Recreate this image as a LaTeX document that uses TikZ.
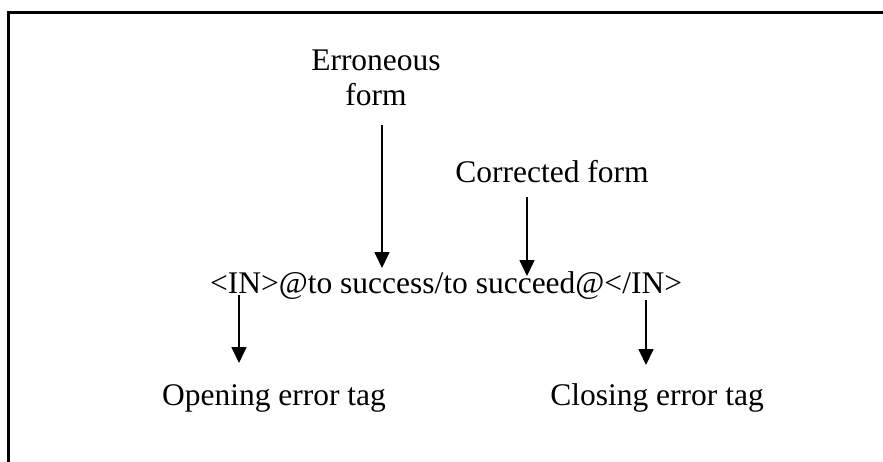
\documentclass[tikz,border=0pt]{standalone}
\usepackage{fontspec}
\setmainfont{Liberation Serif}
\usetikzlibrary{arrows.meta}
\begin{document}
\begin{tikzpicture}[x=1pt,y=-1pt,
  lbl/.style={inner sep=0pt,font=\fontsize{31.5}{35}\selectfont,align=center},
  arr/.style={line width=1.7pt,-{Triangle[width=15pt,length=16pt]}}]
\useasboundingbox (0,0) rectangle (883,461);
\draw[line width=2.4pt] (890,12.5) -- (8.5,12.5) -- (8.5,470);
\node[lbl] (err) at (376,78) {Erroneous\\form};
\node[lbl] (cor) at (552,172) {Corrected form};
\node[lbl,anchor=base] (main) at (446,293) {<IN>@to success/to succeed@</IN>};
\node[lbl,anchor=base] (open) at (274,405) {Opening error tag};
\node[lbl,anchor=base] (close) at (657,405) {Closing error tag};
\coordinate (e1) at (382,125);
\coordinate (e2) at (382,268);
\coordinate (c1) at (527,197);
\coordinate (c2) at (527,276);
\coordinate (o1) at (239,295);
\coordinate (o2) at (239,363);
\coordinate (k1) at (646,300);
\coordinate (k2) at (646,365);
\draw[arr] (e1) -- (e2);
\draw[arr] (c1) -- (c2);
\draw[arr] (o1) -- (o2);
\draw[arr] (k1) -- (k2);
\end{tikzpicture}
\end{document}
